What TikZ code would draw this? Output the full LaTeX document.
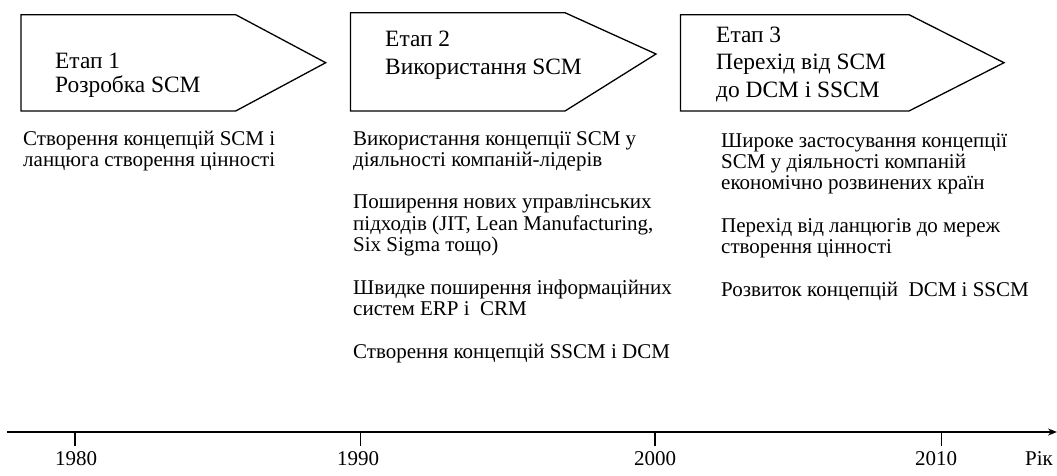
\documentclass[tikz,border=0pt]{standalone}
\usepackage{fontspec}
\setmainfont{Liberation Serif}
\usetikzlibrary{arrows.meta}
\begin{document}
% multi-line nodes below are placed by the baseline of their last line
\begin{tikzpicture}[x=1pt,y=-1pt,
  stage/.style={draw=black, line width=1.3pt, line join=miter},
  txt/.style={anchor=base west, inner sep=0pt, align=left,
    font=\fontsize{21}{21.3}\selectfont},
  head/.style={anchor=base west, inner sep=0pt, align=left,
    font=\fontsize{23.4}{27.3}\selectfont},
  year/.style={anchor=base, inner sep=0pt, font=\fontsize{21}{21.3}\selectfont},
  tick/.style={line width=1.3pt},
  axis/.style={line width=1.8pt, -{Stealth[length=9pt,width=7pt]}}]
\useasboundingbox (0,0) rectangle (1057,475);

% stage arrows
\draw[stage] (21,14.7) -- (235.7,14.7) -- (325.7,62.7) -- (235.7,111) -- (21,111) -- cycle;
\draw[stage] (350.5,12.7) -- (565,12.7) -- (656,54) -- (565,111) -- (350.5,111) -- cycle;
\draw[stage] (680.5,14.7) -- (909,14.7) -- (1004,62.7) -- (909,111) -- (680.5,111) -- cycle;

\node[head, font=\fontsize{23.4}{24}\selectfont] (s1) at (55,92.5) {Етап 1\\Розробка SCM};
\node[head] (s2) at (385,74) {Етап 2\\Використання SCM};
\node[head] (s3) at (716,97) {Етап 3\\Перехід від SCM\\до DCM і SSCM};

% descriptions of each stage
\node[txt] (d1a) at (23,166.3) {Створення концепцій SCM і\\ланцюга створення цінності};

\node[txt] (d2a) at (353,166.3) {Використання концепції SCM у\\діяльності компаній-лідерів};
\node[txt] (d2b) at (353,251.5) {Поширення нових управлінських\\підходів (JIT, Lean Manufacturing,\\Six Sigma тощо)};
\node[txt] (d2c) at (353,315.4) {Швидке поширення інформаційних\\систем ERP і~ CRM};
\node[txt] (d2d) at (353,358) {Створення концепцій SSCM і DCM};

\node[txt] (d3a) at (721,189.6) {Широке застосування концепції\\SCM у діяльності компаній\\економічно розвинених країн};
\node[txt] (d3b) at (721,253.5) {Перехід від ланцюгів до мереж\\створення цінності};
\node[txt] (d3c) at (721,296.1) {Розвиток концепцій~ DCM і SSCM};

% time axis
\coordinate (ax0) at (7,432);
\coordinate (ax1) at (1057,432);
\draw[axis] (ax0) -- (ax1);

\foreach \x/\y in {75/1980, 360.7/1990, 655/2000, 941.7/2010}{
  \coordinate (t\y) at (\x,432);
  \draw[tick] (t\y) -- ++(0,13.5);
}
\node[year] (y1980) at (76,465) {1980};
\node[year] (y1990) at (358,465) {1990};
\node[year] (y2000) at (655,465) {2000};
\node[year] (y2010) at (936,465) {2010};
\node[year] (yr) at (1039,465) {Рік};
\end{tikzpicture}
\end{document}
